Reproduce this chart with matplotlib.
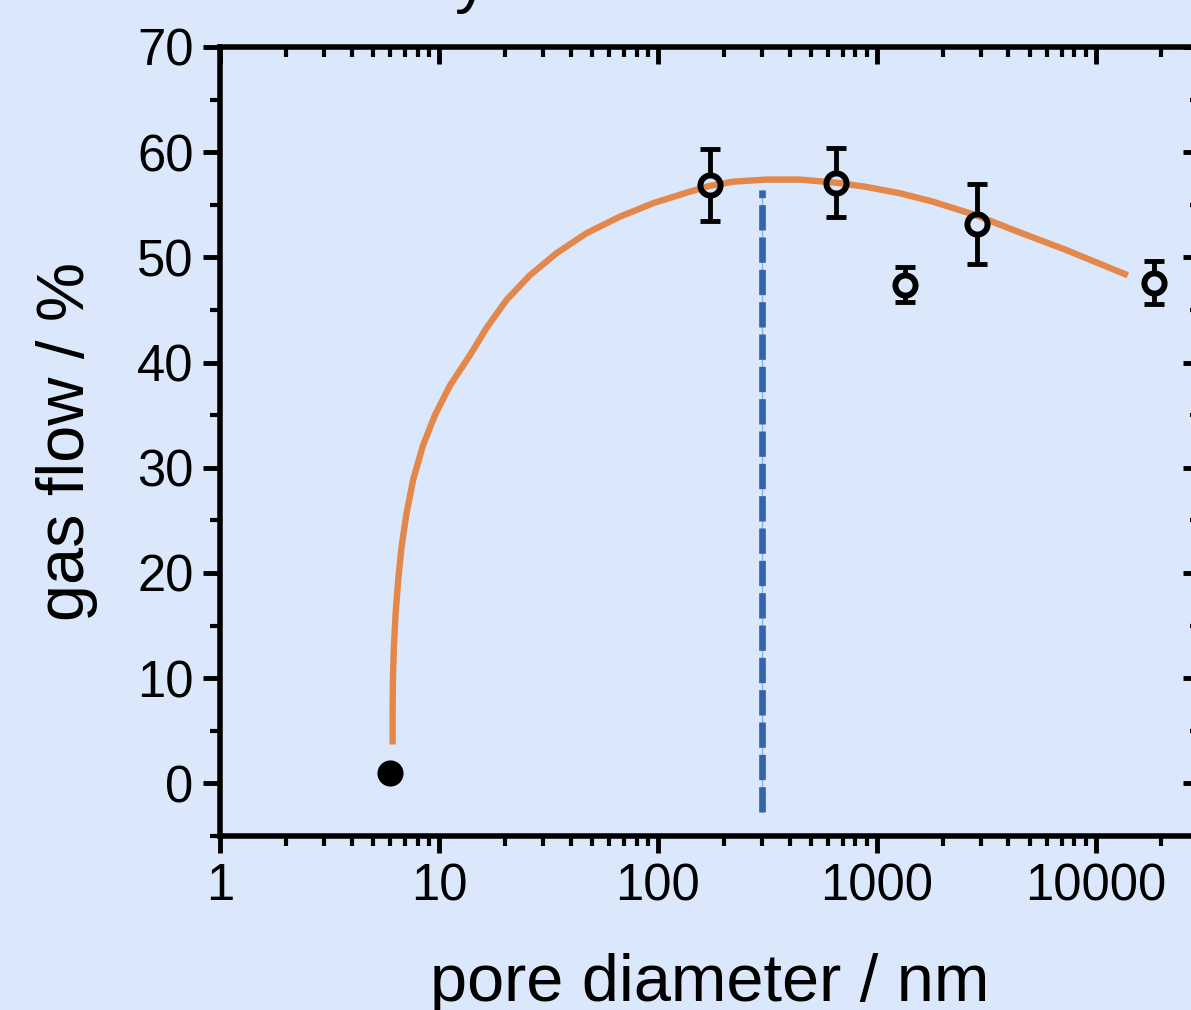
import matplotlib
matplotlib.use("Agg")
import matplotlib.pyplot as plt
from matplotlib.ticker import LogLocator, FuncFormatter, MultipleLocator

plt.rcParams['font.family'] = ['Liberation Sans', 'DejaVu Sans']

BG = "#dbe8fb"

# measured points (open circles with error bars)
pore_d = [174, 655, 1342, 2884, 18400]
flow = [56.9, 57.1, 47.4, 53.2, 47.6]
flow_err = [3.4, 3.3, 1.65, 3.8, 2.05]

# reference point (filled)
ref_d = [6]
ref_flow = [1.0]

# fitted curve
fit_d = [6.147, 6.147, 6.166, 6.23, 6.345, 6.52, 6.755, 7.12, 7.63, 8.43, 9.59,
         11.22, 13.86, 16.51, 20.38, 26.04, 34.47, 47.25, 67.07, 95.2, 135.2, 172.8,
         221, 314, 445, 655, 898, 1274, 1807, 2852, 4343, 7350, 14030]
fit_flow = [3.70, 6.71, 9.88, 13.04, 16.21, 19.37, 22.53, 25.71, 28.87, 32.03, 35.0,
            37.8, 40.7, 43.3, 45.96, 48.3, 50.40, 52.30, 53.87, 55.15, 56.15, 56.8,
            57.2, 57.4, 57.4, 57.1, 56.7, 56.1, 55.3, 54.0, 52.5, 50.7, 48.3]

# optimum marker
opt_d = [300, 300]
opt_flow = [-2.7, 56.4]


def main():
    fig = plt.figure(figsize=(11.91, 10.10), dpi=100, facecolor=BG)
    ax = fig.add_axes([220 / 1191, 174 / 1010, 980 / 1191, 789 / 1010])
    ax.set_facecolor(BG)

    # blue dashed line (with faint thin line through gaps)
    ax.plot(opt_d, opt_flow, color="#8fb0dd", lw=1.0, zorder=2)
    line, = ax.plot(opt_d, opt_flow, color="#3464ae", lw=4.8, zorder=2)
    line.set_dashes((3.8, 1.05))
    line.set_dash_capstyle('butt')

    # error bars
    ax.errorbar(pore_d, flow, yerr=flow_err, fmt='none', ecolor='black',
                elinewidth=3.5, capsize=7.5, capthick=3.5, zorder=3)
    ax.plot(pore_d, flow, 'o', ms=15, mfc=BG, mec='none', zorder=4)

    # fit curve
    ax.plot(fit_d, fit_flow, color="#e3874a", lw=4.6, solid_capstyle='butt',
            solid_joinstyle='round', zorder=5)

    ax.plot(pore_d, flow, 'o', ms=14.5, mfc='none', mec='black', mew=4.3, zorder=6)
    ax.plot(ref_d, ref_flow, 'o', ms=14.5, mfc='black', mec='black', mew=4.3, zorder=6)

    ax.set_xscale('log')
    ax.set_xlim(1, 3e4)
    ax.set_ylim(-5, 70)

    ax.xaxis.set_major_locator(LogLocator(base=10, numticks=10))
    ax.xaxis.set_minor_locator(LogLocator(base=10, subs=range(2, 10), numticks=20))
    ax.xaxis.set_major_formatter(FuncFormatter(lambda v, _: f"{v:g}"))
    ax.yaxis.set_major_locator(MultipleLocator(10))
    ax.yaxis.set_minor_locator(MultipleLocator(5))

    for s in ax.spines.values():
        s.set_linewidth(4)
    ax.tick_params(which='major', length=12, width=3.5, labelsize=36.5, pad=7)
    ax.tick_params(which='minor', length=7, width=3)
    ax.tick_params(which='both', top=True, right=True, direction='out')
    # top and right ticks point inward
    for t in ax.xaxis.get_major_ticks() + ax.xaxis.get_minor_ticks():
        t.tick2line.set_marker(3)
    for t in ax.yaxis.get_major_ticks() + ax.yaxis.get_minor_ticks():
        t.tick2line.set_marker(0)

    ax.set_xlabel("pore diameter / nm", fontsize=48, labelpad=30)
    ax.set_ylabel("gas flow / %", fontsize=48, labelpad=28)

    # title cut off at the top edge, only the descender shows
    fig.text(455 / 1191, 1.0, "y", fontsize=48, ha='left', va='baseline')

    fig.savefig("out.png", dpi=100, facecolor=BG)


if __name__ == '__main__':
    main()
